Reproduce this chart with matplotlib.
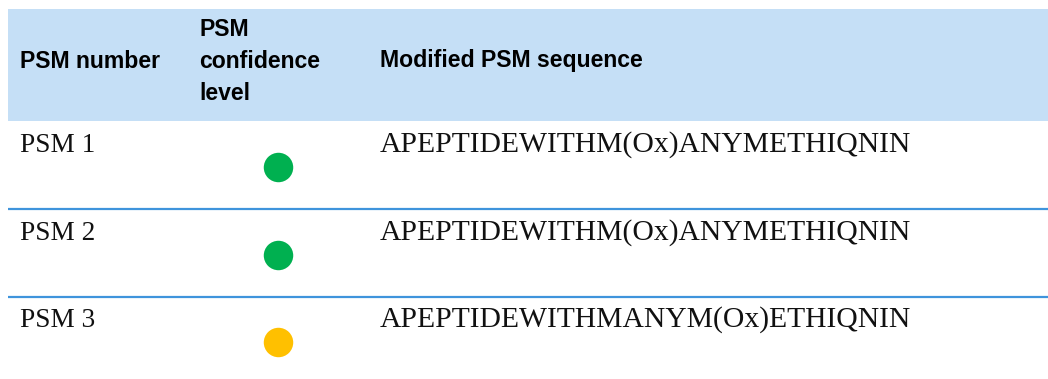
"""PSM table: confidence level and modified sequence per PSM."""
import matplotlib.pyplot as plt
from matplotlib.patches import Rectangle

W, H = 1048, 379

columns = ["PSM number", "PSM\nconfidence\nlevel", "Modified PSM sequence"]
psm_names = ["PSM 1", "PSM 2", "PSM 3"]
sequences = [
    "APEPTIDEWITHM(Ox)ANYMETHIQNIN",
    "APEPTIDEWITHM(Ox)ANYMETHIQNIN",
    "APEPTIDEWITHMANYM(Ox)ETHIQNIN",
]
confidence_colors = ["#00b050", "#00b050", "#ffc000"]

fig = plt.figure(figsize=(W / 100, H / 100), dpi=100)
ax = fig.add_axes([0, 0, 1, 1])
ax.set_xlim(0, W)
ax.set_ylim(H, 0)
ax.axis("off")

# header band and row rules
ax.add_patch(Rectangle((8, 9), 1040, 112, color="#c5dff6", lw=0))
for y in [209, 297]:
    ax.plot([8, 1048], [y, y], color="#3f94dc", lw=1.6, solid_capstyle="butt")

head_font = dict(family="Liberation Sans", weight="bold", fontsize=16.6,
                 color="black", va="center", linespacing=1.5)
for x, label in zip([20, 199.5, 380], columns):
    ax.text(x, 61, label, **head_font)

name_font = dict(family="Liberation Serif", fontsize=19.6, color="#111111", va="baseline")
seq_font = dict(family="Liberation Serif", fontsize=21.3, color="#111111", va="baseline")
row_baselines = [152, 240, 327]
dot_y = [167, 255, 342]
for name, seq, color, base, dy in zip(psm_names, sequences, confidence_colors,
                                      row_baselines, dot_y):
    ax.text(20, base, name, **name_font)
    ax.text(380, base, seq, **seq_font)
    ax.scatter([278], [dy], s=450, color=color, linewidths=0)

fig.savefig("out.png", dpi=100)
plt.close(fig)
